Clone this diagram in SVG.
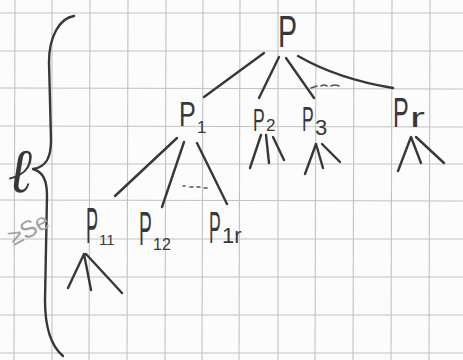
<svg xmlns="http://www.w3.org/2000/svg" width="463" height="360" viewBox="0 0 463 360">
<style>
.grid line{stroke:#c2c2c2;stroke-width:1.1}
.pen{fill:none;stroke:#383838;stroke-width:2.4;stroke-linecap:round;stroke-linejoin:round}
.dots{fill:none;stroke:#555;stroke-width:1.6;stroke-linecap:round}
.lbl{font-family:"Liberation Sans",Arial,sans-serif;fill:#383838}
</style>
<rect width="463" height="360" fill="#fcfcfc"/>
<g class="grid">
<line x1="15" y1="0" x2="14" y2="360"/><line x1="52" y1="0" x2="52" y2="360"/><line x1="90" y1="0" x2="89" y2="360"/>
<line x1="128" y1="0" x2="127" y2="360"/><line x1="166" y1="0" x2="165" y2="360"/><line x1="203" y1="0" x2="202" y2="360"/>
<line x1="240" y1="0" x2="239" y2="360"/><line x1="278" y1="0" x2="278" y2="360"/><line x1="316" y1="0" x2="315" y2="360"/>
<line x1="354" y1="0" x2="353" y2="360"/><line x1="392" y1="0" x2="391" y2="360"/><line x1="430" y1="0" x2="429" y2="360"/>
<line x1="0" y1="13" x2="463" y2="13"/><line x1="0" y1="51" x2="463" y2="51"/><line x1="0" y1="88" x2="463" y2="89"/>
<line x1="0" y1="126" x2="463" y2="127"/><line x1="0" y1="164" x2="463" y2="164"/><line x1="0" y1="200" x2="463" y2="201"/>
<line x1="0" y1="239" x2="463" y2="239"/><line x1="0" y1="277" x2="463" y2="277"/><line x1="0" y1="315" x2="463" y2="315"/>
<line x1="0" y1="353" x2="463" y2="353"/>
</g>
<g id="annotation">
<path class="pen" d="M74,16 C60,18 49,36 49,62 L51,140 C51,158 46,167 33,169 C43,172 47,180 47,196 L45,300 C45,328 51,346 63,356"/>
<text x="8" y="192" font-size="62" font-style="italic" fill="#383838" textLength="24" lengthAdjust="spacingAndGlyphs" style="font-family:'Liberation Serif','DejaVu Serif',serif">ℓ</text>
<text x="6" y="240" transform="rotate(-28 22 228)" font-size="24" fill="#a0a0a0" style="font-family:'Liberation Sans',Arial,sans-serif">≥Se</text>
</g>
<g id="connectors">
<path class="pen" d="M264,53 L204,97"/>
<path class="pen" d="M279,57 L259,98"/>
<path class="pen" d="M286,58 L314,98"/>
<path class="pen" d="M298,56 Q338,79 393,88"/>
<path class="pen" d="M177,138 L115,196"/>
<path class="pen" d="M184,142 L162,207"/>
<path class="pen" d="M197,143 L227,204"/>
<path class="dots" d="M311,88 l6,-2 M321,86 q3,-2 6,0 M331,86 q4,-2 8,0"/>
<path class="dots" d="M183,186 l2,0 M190,187 l3,0 M197,187 l3,0 M204,188 l3,0"/>
</g>
<g id="node-P">
<text class="lbl" font-size="44" transform="translate(278 47) scale(0.65 1)">P</text>
</g>
<g id="node-P1">
<text class="lbl" font-size="36" transform="translate(179 126) scale(0.7 1)">P</text>
<text class="lbl" x="197" y="133" font-size="17">1</text>
</g>
<g id="node-P2">
<text class="lbl" font-size="32" transform="translate(253 131) scale(0.55 1)">P</text>
<text class="lbl" x="266" y="131" font-size="17">2</text>
<path class="pen" d="M261,135 L250,168 M266,135 L269,163 M273,137 L284,160"/>
</g>
<g id="node-P3">
<text class="lbl" font-size="35" transform="translate(302 131) scale(0.5 1)">P</text>
<text class="lbl" x="315" y="135" font-size="22">3</text>
<path class="pen" d="M305,174 L316,144 L323,168 M322,144 L340,162"/>
</g>
<g id="node-Pr">
<text class="lbl" font-size="42" transform="translate(393 127) scale(0.56 1)">P</text>
<text class="lbl" font-size="28" transform="translate(410 127) scale(1.6 1)">r</text>
<path class="pen" d="M398,171 L411,137 L421,163 M416,137 L444,163"/>
</g>
<g id="node-P11">
<text class="lbl" font-size="50" transform="translate(86 243) scale(0.36 1)">P</text>
<text class="lbl" x="99" y="245" font-size="15">11</text>
<path class="pen" d="M68,288 L84,254 L91,290 M86,254 L122,293"/>
</g>
<g id="node-P12">
<text class="lbl" font-size="48" transform="translate(139 245) scale(0.4 1)">P</text>
<text class="lbl" x="153" y="250" font-size="16">12</text>
</g>
<g id="node-P1r">
<text class="lbl" font-size="44" transform="translate(209 243) scale(0.4 1)">P</text>
<text class="lbl" x="222" y="243" font-size="22">1r</text>
</g>
</svg>
